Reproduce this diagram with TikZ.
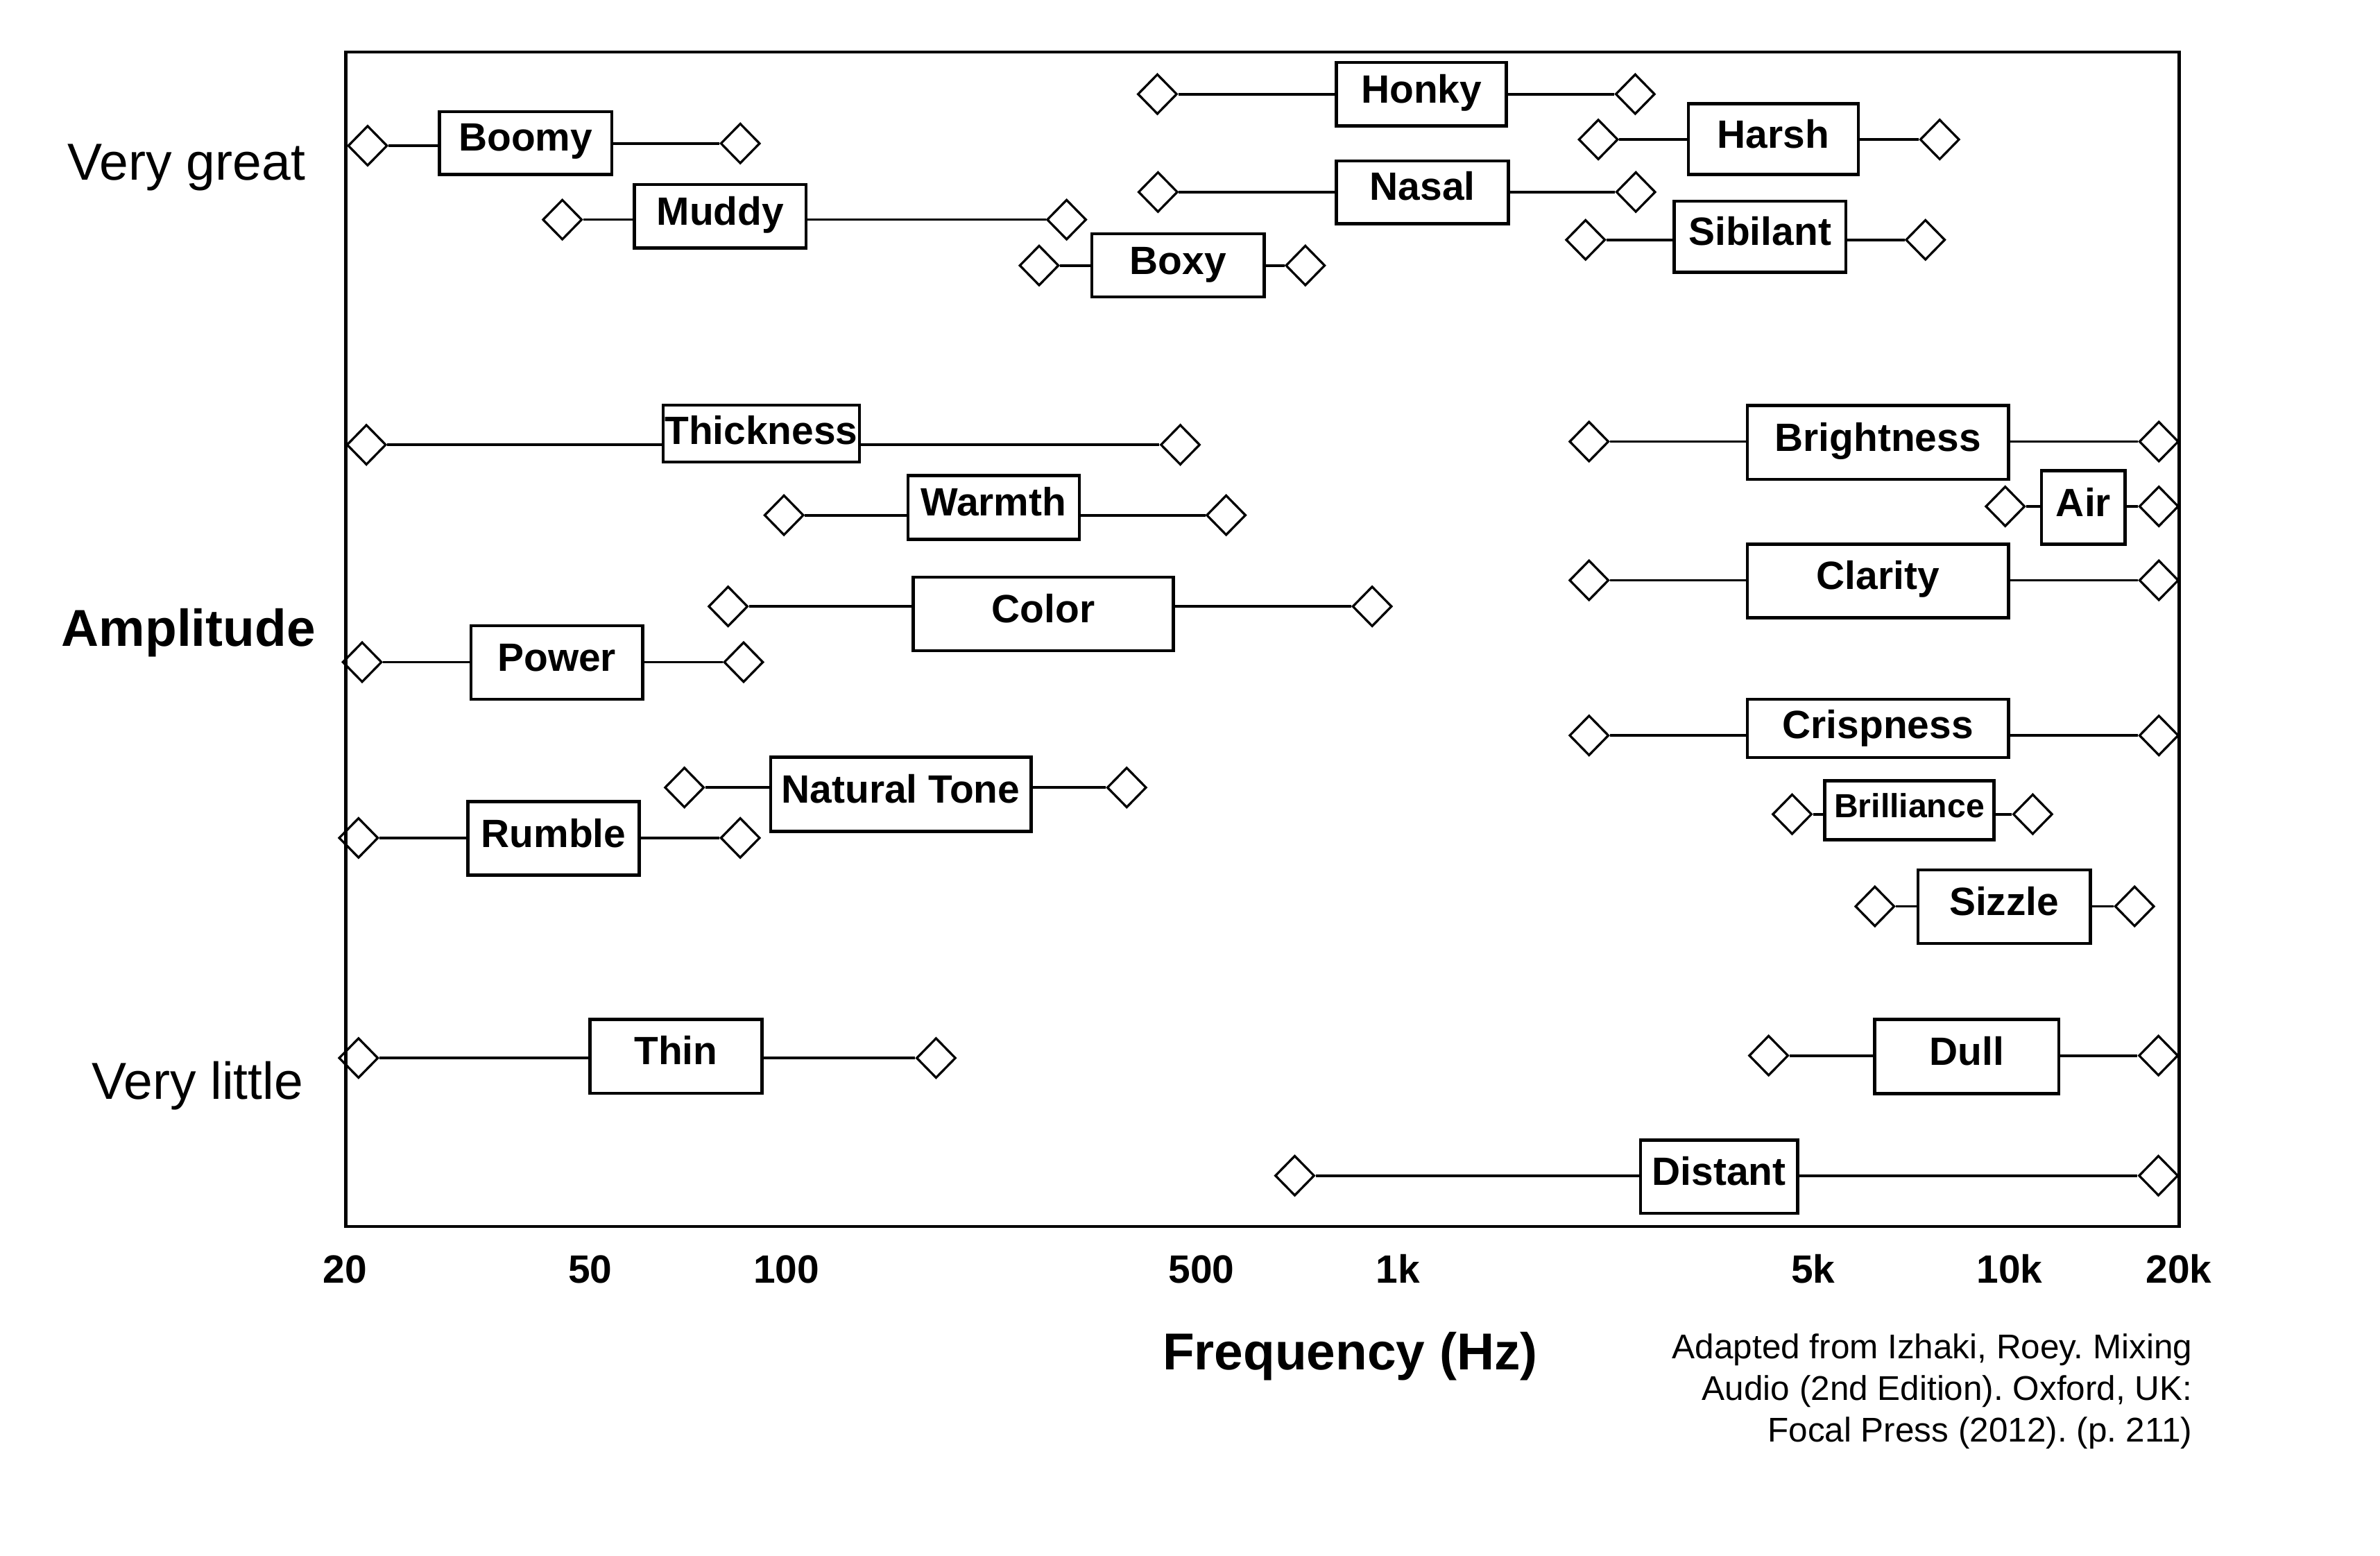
\documentclass[tikz,border=0pt]{standalone}
\usepackage{fontspec}
\setmainfont{Liberation Sans}
\usetikzlibrary{shapes.geometric}
\frenchspacing
\tikzset{
  dia/.style={draw, shape=diamond, minimum width=26pt, minimum height=26.5pt, inner sep=0pt, line width=1.5pt},
  bxs/.style={draw, rectangle, inner sep=0pt, line width=2pt},
  conn/.style={line width=1.7pt},
  lbl/.style={font=\bfseries\fontsize{26}{30}\selectfont, inner sep=0pt, anchor=base},
  lblsmall/.style={font=\bfseries\fontsize{22}{26}\selectfont, inner sep=0pt, anchor=base},
  tick/.style={font=\bfseries\fontsize{26}{30}\selectfont, inner sep=0pt, anchor=base},
  side/.style={font=\fontsize{34.3}{38}\selectfont, inner sep=0pt, anchor=base},
  sidebold/.style={font=\bfseries\fontsize{34.2}{38}\selectfont, inner sep=0pt, anchor=base},
  cite/.style={font=\fontsize{22.6}{27.5}\selectfont, inner sep=0pt, anchor=base east},
  frame/.style={line width=2.2pt}
}
% name, x1, x2, y1, y2, baseline, text, text style
\newcommand\Bx[8]{%
  \pgfmathsetmacro\myBw{#3-#2}%
  \pgfmathsetmacro\myBh{#5-#4}%
  \pgfmathsetmacro\myBcx{(#2+#3)/2}%
  \pgfmathsetmacro\myBcy{(#4+#5)/2}%
  \node[bxs, minimum width=\myBw pt, minimum height=\myBh pt] (#1) at (\myBcx,\myBcy) {};
  \node[#8] (#1-t) at (\myBcx,#6) {#7};
}
\newcommand\Dia[3]{\node[dia] (#1) at (#2,#3) {};}
\newcommand\Link[3]{%
  \draw[conn] (#1.east) -- (#1.east -| #2.west);
  \draw[conn] (#2.east |- #3.west) -- (#3.west);
}
\begin{document}
\begin{tikzpicture}[x=1pt, y=-1pt]
\useasboundingbox (0,0) rectangle (1568,1025);
\fill[white] (0,0) rectangle (1568,1025);
\draw[frame] (228,34.3) rectangle (1435.7,808);

% top group
\Dia{boomyL}{242.2}{96.0}\Bx{boomy}{289.5}{403}{73.5}{115}{99.5}{Boomy}{lbl}\Dia{boomyR}{487.7}{94.5}\Link{boomyL}{boomy}{boomyR}
\Dia{muddyL}{370.5}{144.7}\Bx{muddy}{418}{531}{121.6}{163.3}{148.4}{Muddy}{lbl}\Dia{muddyR}{702.7}{144.7}\Link{muddyL}{muddy}{muddyR}
\Dia{boxyL}{684.6}{174.9}\Bx{boxy}{719.4}{832.9}{153.9}{195.7}{180.7}{Boxy}{lbl}\Dia{boxyR}{860}{174.9}\Link{boxyL}{boxy}{boxyR}
\Dia{honkyL}{762.5}{62}\Bx{honky}{880.5}{992.4}{41.1}{83}{67.9}{Honky}{lbl}\Dia{honkyR}{1077.3}{62}\Link{honkyL}{honky}{honkyR}
\Dia{nasalL}{762.9}{126.5}\Bx{nasal}{880.5}{993.8}{105.9}{147.3}{131.9}{Nasal}{lbl}\Dia{nasalR}{1077.7}{126.5}\Link{nasalL}{nasal}{nasalR}
\Dia{harshL}{1053}{91.9}\Bx{harsh}{1112.3}{1224.2}{68.3}{115}{97.7}{Harsh}{lbl}\Dia{harshR}{1277.9}{91.9}\Link{harshL}{harsh}{harshR}
\Dia{sibL}{1044.6}{158}\Bx{sib}{1102.9}{1216.1}{132.5}{179.3}{161.6}{Sibilant}{lbl}\Dia{sibR}{1268.5}{158}\Link{sibL}{sib}{sibR}

% middle left
\Dia{thickL}{241.4}{293}\Bx{thick}{436.9}{566.2}{266.9}{304.4}{292.7}{Thickness}{lbl}\Dia{thickR}{777.6}{293}\Link{thickL}{thick}{thickR}
\Dia{warmL}{516.5}{339.4}\Bx{warm}{598.1}{711.1}{313.2}{355.4}{339.9}{Warmth}{lbl}\Dia{warmR}{807.8}{339.4}\Link{warmL}{warm}{warmR}
\Dia{colorL}{479.7}{399.5}\Bx{color}{601.7}{773.1}{380.1}{428.6}{410}{Color}{lbl}\Dia{colorR}{904}{399.5}\Link{colorL}{color}{colorR}
\Dia{powerL}{238.6}{436.2}\Bx{power}{310.3}{423.4}{412.1}{460.8}{442}{Power}{lbl}\Dia{powerR}{489.9}{436.2}\Link{powerL}{power}{powerR}
\Dia{natL}{450.9}{518.8}\Bx{nat}{507.6}{679.3}{498.9}{547.7}{528.8}{Natural Tone}{lbl}\Dia{natR}{742.3}{518.8}\Link{natL}{nat}{natR}
\Dia{rumbleL}{236.2}{552}\Bx{rumble}{308.2}{421.2}{528}{576.5}{558.1}{Rumble}{lbl}\Dia{rumbleR}{487.7}{552}\Link{rumbleL}{rumble}{rumbleR}
\Dia{thinL}{236.2}{697}\Bx{thin}{388.7}{502}{671.6}{720.3}{701.4}{Thin}{lbl}\Dia{thinR}{616.7}{697}\Link{thinL}{thin}{thinR}

% middle right
\Dia{brightL}{1046.9}{290.9}\Bx{bright}{1151.2}{1323.2}{267.1}{315.9}{297.1}{Brightness}{lbl}\Dia{brightR}{1422.3}{290.9}\Link{brightL}{bright}{brightR}
\Dia{airL}{1321.1}{333.6}\Bx{air}{1345.1}{1400.1}{310}{358.5}{340.2}{Air}{lbl}\Dia{airR}{1422.3}{333.6}\Link{airL}{air}{airR}
\Dia{clarL}{1046.9}{382.3}\Bx{clar}{1151.2}{1323.2}{358.5}{407}{388.3}{Clarity}{lbl}\Dia{clarR}{1422.3}{382.3}\Link{clarL}{clar}{clarR}
\Dia{crispL}{1046.9}{484.5}\Bx{crisp}{1151.2}{1323.2}{460.7}{499.1}{486.4}{Crispness}{lbl}\Dia{crispR}{1422.3}{484.5}\Link{crispL}{crisp}{crispR}
\Dia{brilL}{1180.7}{536.4}\Bx{bril}{1202.2}{1313.6}{514.3}{553.2}{538.4}{Brilliance}{lblsmall}\Dia{brilR}{1339.2}{536.4}\Link{brilL}{bril}{brilR}
\Dia{sizL}{1235.2}{597.1}\Bx{siz}{1263.7}{1377.1}{573.1}{621.5}{602.8}{Sizzle}{lbl}\Dia{sizR}{1406.3}{597.1}\Link{sizL}{siz}{sizR}
\Dia{dullL}{1165.2}{695.4}\Bx{dull}{1235.1}{1356.5}{671.5}{720.4}{701.6}{Dull}{lbl}\Dia{dullR}{1422}{695.4}\Link{dullL}{dull}{dullR}
\Dia{distL}{853}{774.5}\Bx{dist}{1080.8}{1184.3}{751}{799.4}{780.8}{Distant}{lbl}\Dia{distR}{1422}{774.5}\Link{distL}{dist}{distR}

% axis ticks
\node[tick] (t20) at (227.4,845.1) {20};
\node[tick] (t50) at (388.8,845.1) {50};
\node[tick] (t100) at (518,845.1) {100};
\node[tick] (t500) at (791.5,845.1) {500};
\node[tick] (t1k) at (921,845.1) {1k};
\node[tick] (t5k) at (1194.5,845.1) {5k};
\node[tick] (t10k) at (1324,845.1) {10k};
\node[tick] (t20k) at (1435.5,845.1) {20k};

% axis titles
\node[side] (vgreat) at (122.9,118.8) {Very great};
\node[sidebold] (ampl) at (124.2,425.8) {Amplitude};
\node[side] (vlittle) at (130.1,724) {Very little};
\node[sidebold] (freq) at (889.5,902.3) {Frequency (Hz)};

% citation
\node[cite] (cite1) at (1444.5,894.9) {Adapted from Izhaki, Roey. Mixing};
\node[cite] (cite2) at (1444.5,922.4) {Audio (2nd Edition). Oxford, UK:};
\node[cite] (cite3) at (1444.5,950.0) {Focal Press (2012). (p. 211)};
\end{tikzpicture}
\end{document}
